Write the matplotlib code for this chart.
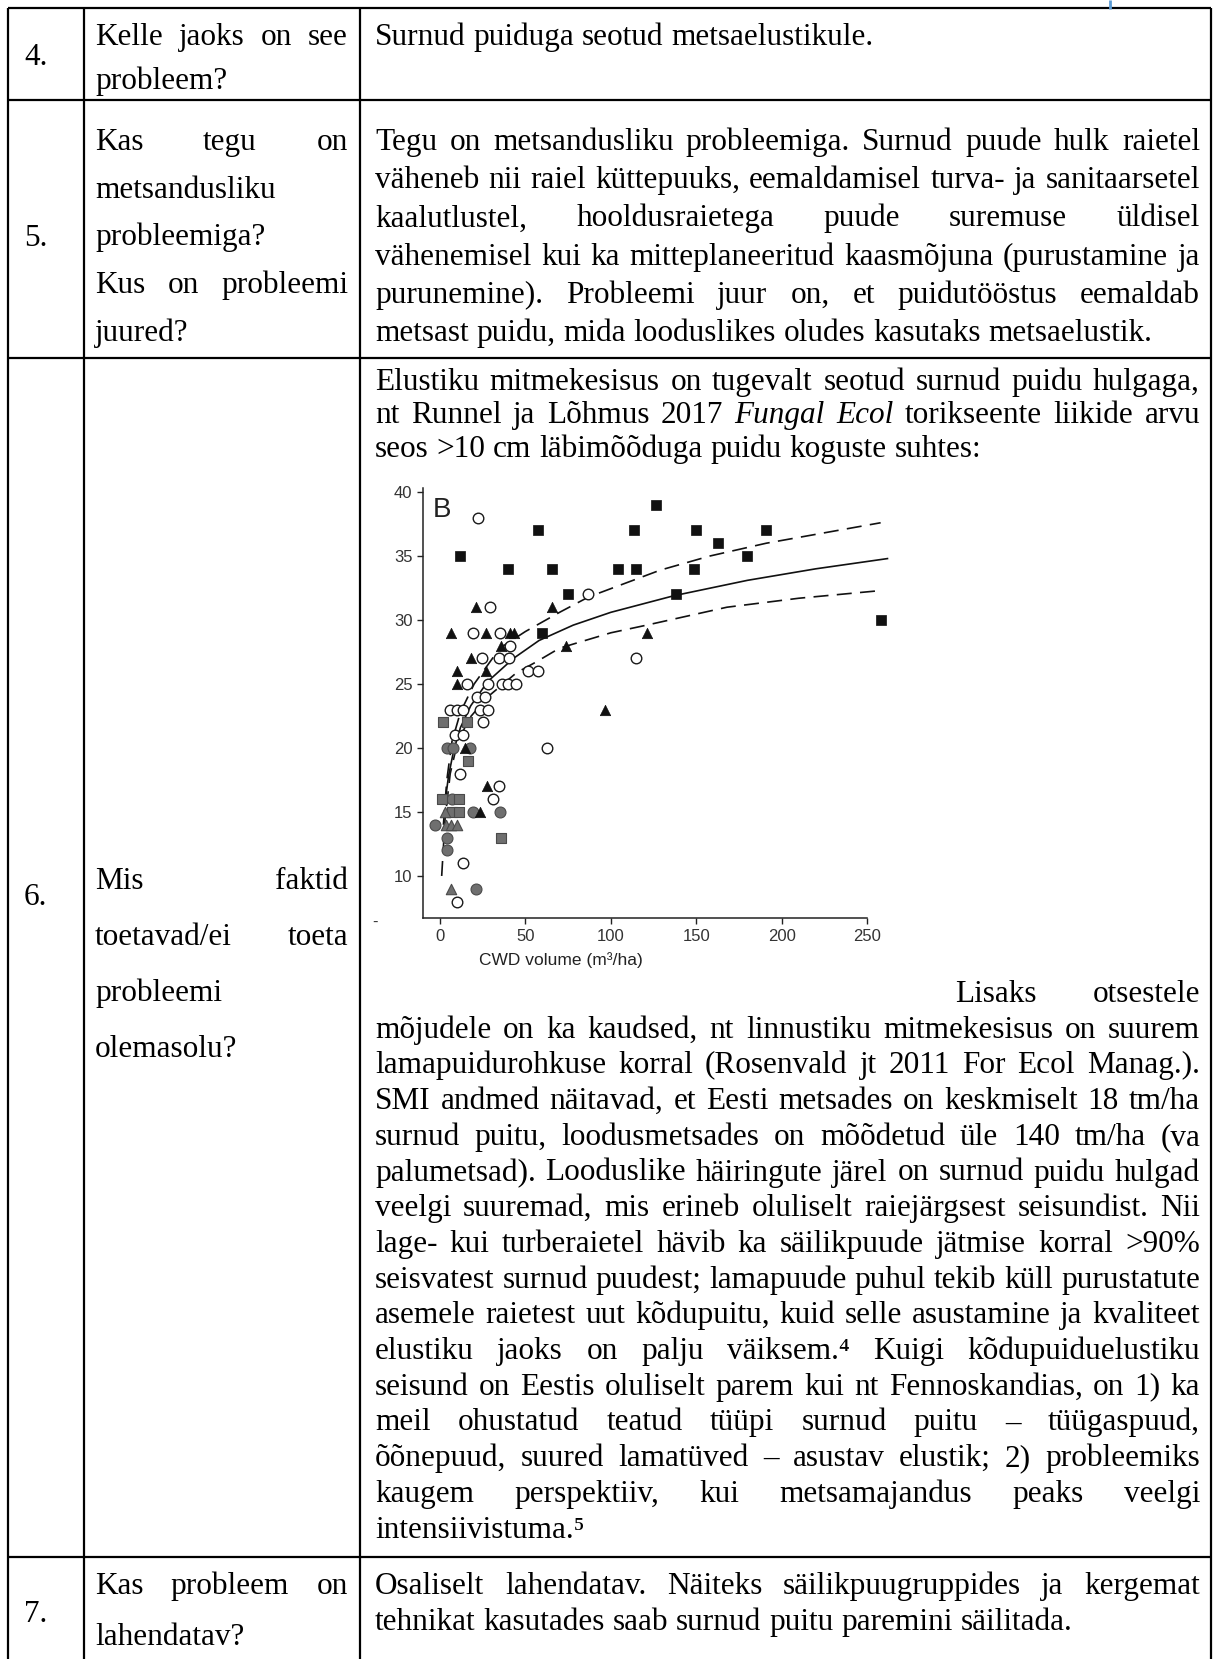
import matplotlib
matplotlib.use("Agg")
import matplotlib.pyplot as plt
from matplotlib.lines import Line2D

W, H = 1215, 1659
FS = 22.5
SERIF = ["Liberation Serif", "DejaVu Serif"]
SANS = ["Liberation Sans", "DejaVu Sans"]

# ---- scatter data (CWD volume vs species count)
black_sq_x = [12, 40, 57.5, 60, 65.5, 75, 104, 113.5, 114.5, 126.5, 138, 148.5, 150, 163, 180, 191, 258]
black_sq_y = [35, 34, 37, 29, 34, 32, 34, 37, 34, 39, 32, 34, 37, 36, 35, 37, 30]

black_tri_x = [6.5, 10, 10, 14.5, 18, 21, 23.5, 27, 27, 27.5, 36, 41, 43.5, 65.5, 73.5, 96.5, 121]
black_tri_y = [29, 26, 25, 20, 27, 31, 15, 29, 26, 17, 28, 29, 29, 31, 28, 23, 29]

open_x = [22.4, 29.2, 19.5, 35.1, 40.9, 86.7, 24.4, 34.7, 40.5, 114.6, 51.7, 57.5, 15.6, 28.3,
          36.1, 40, 44.4, 21.4, 26.3, 5.8, 9.7, 13.6, 23.4, 28.3, 25.3, 8.8, 13.3, 62.4,
          11.7, 34.7, 30.8, 13.3, 9.7]
open_y = [38, 31, 29, 29, 28, 32, 27, 27, 27, 27, 26, 26, 25, 25,
          25, 25, 25, 24, 24, 23, 23, 23, 23, 23, 22, 21, 21, 20,
          18, 17, 16, 11, 8]

gray_sq_x = [1, 11, 2, 15.6, 16.6, 7, 11, 35.7]
gray_sq_y = [16, 16, 22, 22, 19, 15, 15, 13]

gray_circ_x = [-3, 4, 4, 21, 19.5, 35.1, 4, 7.5, 17.5, 7]
gray_circ_y = [14, 13, 12, 9, 15, 15, 20, 20, 20, 16]

gray_tri_x = [6.2, 3, 3.5, 6.5, 9.7]
gray_tri_y = [9, 15, 14, 14, 14]

# fitted curve and its bounds, traced point by point
fit_x = [3, 5, 8, 12, 18, 28, 43, 58, 78, 100, 137, 180, 220, 262]
fit_y = [15.8, 17.8, 19.8, 21.6, 23.3, 25.2, 27.0, 28.4, 29.6, 30.6, 31.9, 33.1, 34.0, 34.8]
up_x = [2, 4, 7, 12, 20, 35, 50, 70, 87, 129, 158, 191, 258]
up_y = [14.0, 17.5, 20.5, 22.8, 25.0, 27.8, 29.1, 30.6, 31.8, 33.9, 35.0, 36.0, 37.6]
lo_x = [1, 3, 6, 10, 17, 28, 45, 56, 70, 100, 121, 168, 210, 258]
lo_y = [10.0, 14.5, 18.0, 20.3, 22.3, 24.0, 25.9, 26.7, 27.8, 29.0, 29.6, 31.0, 31.7, 32.3]

x_ticks = [0, 50, 100, 150, 200, 250]
y_ticks = [10, 15, 20, 25, 30, 35, 40]

# ---- table text
row5_col3 = [
    "Tegu on metsandusliku probleemiga. Surnud puude hulk raietel",
    "väheneb nii raiel küttepuuks, eemaldamisel turva- ja sanitaarsetel",
    "kaalutlustel, hooldusraietega puude suremuse üldisel",
    "vähenemisel kui ka mitteplaneeritud kaasmõjuna (purustamine ja",
    "purunemine). Probleemi juur on, et puidutööstus eemaldab",
    "metsast puidu, mida looduslikes oludes kasutaks metsaelustik.",
]
row5_col2 = ["Kas tegu on", "metsandusliku", "probleemiga?", "Kus on probleemi", "juured?"]
row5_col2_just = [True, False, False, True, False]

row6_top = [
    "Elustiku mitmekesisus on tugevalt seotud surnud puidu hulgaga,",
    "nt Runnel ja Lõhmus 2017 *Fungal *Ecol torikseente liikide arvu",
    "seos >10 cm läbimõõduga puidu koguste suhtes:",
]
row6_low = [
    "mõjudele on ka kaudsed, nt linnustiku mitmekesisus on suurem",
    "lamapuidurohkuse korral (Rosenvald jt 2011 For Ecol Manag.).",
    "SMI andmed näitavad, et Eesti metsades on keskmiselt 18 tm/ha",
    "surnud puitu, loodusmetsades on mõõdetud üle 140 tm/ha (va",
    "palumetsad). Looduslike häiringute järel on surnud puidu hulgad",
    "veelgi suuremad, mis erineb oluliselt raiejärgsest seisundist. Nii",
    "lage- kui turberaietel hävib ka säilikpuude jätmise korral >90%",
    "seisvatest surnud puudest; lamapuude puhul tekib küll purustatute",
    "asemele raietest uut kõdupuitu, kuid selle asustamine ja kvaliteet",
    "elustiku jaoks on palju väiksem.⁴ Kuigi kõdupuiduelustiku",
    "seisund on Eestis oluliselt parem kui nt Fennoskandias, on 1) ka",
    "meil ohustatud teatud tüüpi surnud puitu – tüügaspuud,",
    "õõnepuud, suured lamatüved – asustav elustik; 2) probleemiks",
    "kaugem perspektiiv, kui metsamajandus peaks veelgi",
    "intensiivistuma.⁵",
]
row6_col2 = ["Mis faktid", "toetavad/ei toeta", "probleemi", "olemasolu?"]
row6_col2_just = [True, True, False, False]

row7_col3 = [
    "Osaliselt lahendatav. Näiteks säilikpuugruppides ja kergemat",
    "tehnikat kasutades saab surnud puitu paremini säilitada.",
]
row7_col2 = ["Kas probleem on", "lahendatav?"]


fig = plt.figure(figsize=(W / 100, H / 100), dpi=100)
fig.patch.set_facecolor("white")
renderer = fig.canvas.get_renderer()


def fx(x):
    return x / W


def fy(y):
    return 1 - y / H


def seg(x0, y0, x1, y1, lw=1.6, color="black"):
    fig.add_artist(Line2D([fx(x0), fx(x1)], [fy(y0), fy(y1)], color=color, lw=lw,
                          solid_capstyle="butt"))


def put(text, x0, y, x1=None, size=FS):
    # one line of words; stretched between x0 and x1 when x1 is given
    arts = []
    for w in text.split(" "):
        style = "normal"
        if w.startswith("*"):
            w, style = w[1:], "italic"
        arts.append(fig.text(fx(x0), fy(y), w, fontsize=size, family=SERIF,
                             style=style, va="baseline", ha="left"))
    widths = [a.get_window_extent(renderer).width for a in arts]
    gap = size * 100 / 72 * 0.25
    if x1 is not None and len(arts) > 1:
        gap = (x1 - x0 - sum(widths)) / (len(arts) - 1)
    x = x0
    for a, wd in zip(arts, widths):
        a.set_x(fx(x))
        x += wd + gap


# ---- table frame
L, C1, C2, R = 8, 84, 360, 1211
TOP, B4, B5, B6 = 8, 100, 358, 1557
for yy in (TOP, B4, B5, B6):
    seg(L, yy, R, yy)
for xx in (L, C1, C2, R):
    seg(xx, TOP, xx, H)
seg(1110, 0, 1110, 9, lw=2, color="#5b9bd5")

T2, T2R = 95, 348
T3, T3R = 375, 1200

# row 4
put("4.", 24, 65)
put("Kelle jaoks on see", T2, 45, T2R)
put("probleem?", T2, 89)
put("Surnud puiduga seotud metsaelustikule.", T3, 45)

# row 5
put("5.", 24, 246)
for i, s in enumerate(row5_col3):
    put(s, T3, 150 + i * 38.2, T3R if i < len(row5_col3) - 1 else None)
for i, s in enumerate(row5_col2):
    put(s, T2, 150 + i * 47.75, T2R if row5_col2_just[i] else None)

# row 6
put("6.", 24, 905)
for i, s in enumerate(row6_top):
    put(s, T3, 390 + i * 33.4, T3R if i < 2 else None)
for i, s in enumerate(row6_col2):
    put(s, T2, 889 + i * 56, T2R if row6_col2_just[i] else None)
put("Lisaks otsestele", 955, 1002, T3R)
for i, s in enumerate(row6_low):
    put(s, T3, 1002 + (i + 1) * 35.7, T3R if i < len(row6_low) - 1 else None)

# row 7
put("7.", 24, 1622)
put(row7_col2[0], T2, 1594, T2R)
put(row7_col2[1], T2, 1645)
put(row7_col3[0], T3, 1594, T3R)
put(row7_col3[1], T3, 1630)

# ---- embedded scatter plot
ax_l, ax_r, ax_t, ax_b = 422.9, 892.6, 488.2, 918.2
ax = fig.add_axes([fx(ax_l), fy(ax_b), (ax_r - ax_l) / W, (ax_b - ax_t) / H])
ax.set_xlim(-10, 265)
ax.set_ylim(6.7, 40.3)
ax.patch.set_alpha(0)
for sp in ("top", "right"):
    ax.spines[sp].set_visible(False)
ax.spines["bottom"].set_bounds(-10, 250)
for sp in ("left", "bottom"):
    ax.spines[sp].set_linewidth(1.1)
    ax.spines[sp].set_color("#222222")
ax.set_xticks(x_ticks)
ax.set_yticks(y_ticks)
ax.tick_params(direction="out", length=4.5, width=1.0, color="#222222",
               labelsize=12, labelcolor="#333333", pad=3)
for lab in ax.get_xticklabels() + ax.get_yticklabels():
    lab.set_family(SANS)
ax.set_xlabel("CWD volume (m³/ha)", family=SANS, fontsize=12.5, color="#222222",
              x=0.294, labelpad=6)

ax.plot(fit_x, fit_y, color="#111111", lw=1.2, zorder=2)
ax.plot(up_x, up_y, color="#111111", lw=1.2, ls=(0, (9, 5)), zorder=2)
ax.plot(lo_x, lo_y, color="#111111", lw=1.2, ls=(0, (9, 5)), zorder=2)

ax.scatter(gray_circ_x, gray_circ_y, s=62, marker="o", facecolor="#6f6f6f",
           edgecolor="#4a4a4a", lw=0.8, zorder=3, clip_on=False)
ax.scatter(gray_sq_x, gray_sq_y, s=44, marker="s", facecolor="#6f6f6f",
           edgecolor="#4a4a4a", lw=0.8, zorder=3)
ax.scatter(gray_tri_x, gray_tri_y, s=56, marker="^", facecolor="#6f6f6f",
           edgecolor="#4a4a4a", lw=0.8, zorder=3)
ax.scatter(open_x, open_y, s=58, marker="o", facecolor="white",
           edgecolor="#1a1a1a", lw=1.0, zorder=4)
ax.scatter(black_tri_x, black_tri_y, s=56, marker="^", facecolor="#111111",
           edgecolor="#111111", lw=0.5, zorder=5)
ax.scatter(black_sq_x, black_sq_y, s=42, marker="s", facecolor="#111111",
           edgecolor="#111111", lw=0.5, zorder=5)

ax.text(-4.1, 38.05, "B", family=SANS, fontsize=20, color="#222222", va="baseline", ha="left")
fig.text(fx(372), fy(922), "-", family=SANS, fontsize=12, color="#333333", va="center")

fig.savefig("out.png", dpi=100, facecolor="white")
